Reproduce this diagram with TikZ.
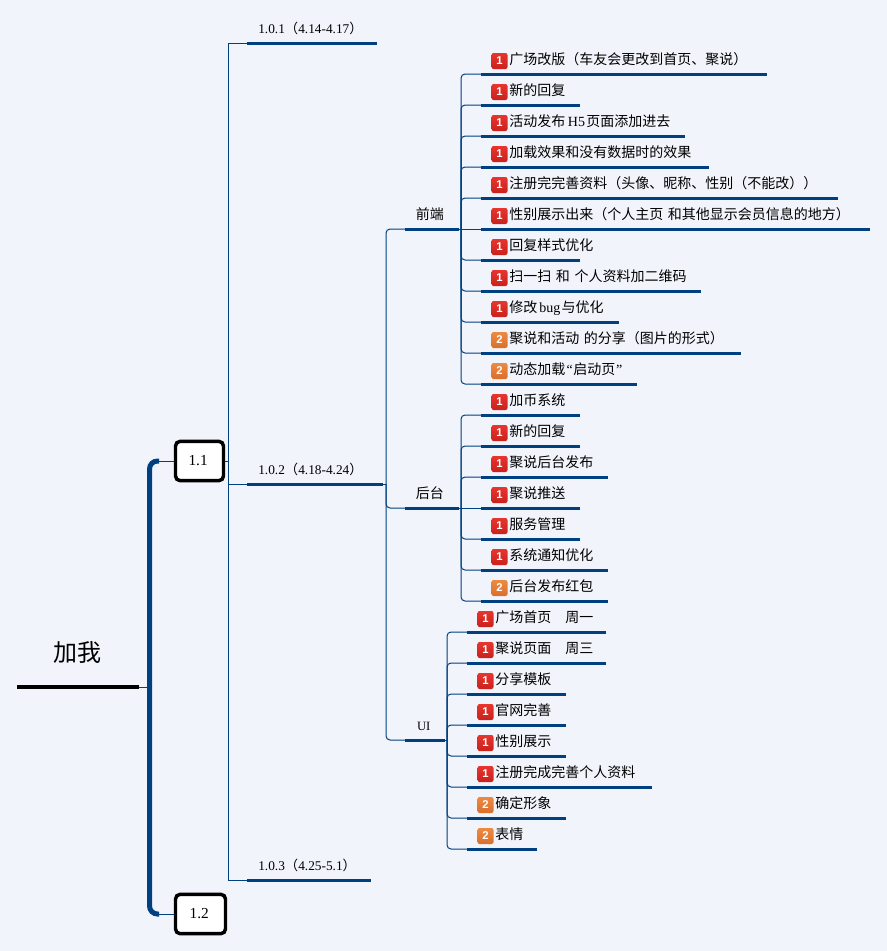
\documentclass[tikz,border=0pt]{standalone}
\usepackage{fontspec}
\setmainfont{Noto Sans CJK SC}
\newfontfamily\latfont{Liberation Serif}
\newfontfamily\tagfont{Liberation Sans}
\newcommand{\lat}[1]{{\latfont #1}}
\definecolor{paper}{HTML}{F2F4FB}
\definecolor{navy}{HTML}{004080}
\definecolor{E1}{HTML}{E8352E}
\definecolor{E2}{HTML}{C9211D}
\definecolor{O1}{HTML}{EC8A42}
\definecolor{O2}{HTML}{D96F2B}
\tikzset{
  bar/.style={inner sep=0pt, anchor=south west, text height=15pt, text depth=6.75pt,
    append after command={(\tikzlastnode.south west) edge[line width=2.25pt, navy] (\tikzlastnode.south east)}},
  leaf/.style={bar, text width=#1*0.75pt-0.75pt, font=\fontsize{10.5}{12}\selectfont, execute at begin node={\hspace*{21pt}}},
  stage/.style={bar, text width=#1*0.75pt-0.75pt, font=\fontsize{10}{11}\selectfont, execute at begin node={\hspace*{8.25pt}}},
  side/.style={bar, minimum width=#1*0.75pt-0.75pt, font=\fontsize{10.5}{12}\selectfont},
  box/.style={draw=black, fill=white, line width=2.6pt, rounded corners=3.5pt, minimum width=36pt, minimum height=29.5pt, font=\latfont\fontsize{11.5}{13}\selectfont, execute at begin node={\kern-2pt}},
  tag/.style={rectangle, rounded corners=1.5pt, minimum size=12pt, inner sep=0pt, text=white, font=\tagfont\bfseries\fontsize{8.5}{9}\selectfont},
  red/.style={tag, top color=E1, bottom color=E2},
  orange/.style={tag, top color=O1, bottom color=O2},
  wire/.style={navy, line width=.75pt},
  twig/.style={wire, rounded corners=3pt},
  trunk/.style={navy, line width=3.75pt, rounded corners=6pt}
}
\begin{document}
\begin{tikzpicture}[x=0.75pt, y=-0.75pt]
  \fill[paper] (0,0) rectangle (887,951);
  \useasboundingbox (0,0) rectangle (887,951);
  % Nodes
  \node (root) [inner sep=0pt, anchor=south west, minimum width=90.75pt, text depth=19pt, text height=16pt, font=\fontsize{18}{20}\selectfont, append after command={(\tikzlastnode.south west) edge[line width=3pt, black] (\tikzlastnode.south east)}] at (17,687) {加我};
  \node (b-1) [box] at (199.5,461) {1.1};
  \node (b-2) [box, minimum width=37.5pt] at (200.5,914) {1.2};
  \coordinate (hub) at (149.5,687);
  \coordinate (c-1) at (159,461);
  \coordinate (c-2) at (159,914);
  \coordinate (j-0) at (228,461);

  \node (s-1) [stage=130] at (247,43) {\lat{1.0.1}（\lat{4.14-4.17}）};
  \node (s-2) [stage=136] at (247,484) {\lat{1.0.2}（\lat{4.18-4.24}）};
  \node (s-3) [stage=124] at (247,880) {\lat{1.0.3}（\lat{4.25-5.1}）};
  \coordinate (j-1) at (386,484);

  \node (fe) [side=54, execute at begin node={\kern-3pt}] at (405,229) {前端};
  \node (be) [side=54, execute at begin node={\kern-3pt}] at (405,508) {后台};
  \node (ui) [side=40, font=\latfont\fontsize{9.5}{11}\selectfont, execute at begin node={\kern-1.5pt}] at (405,740) {UI};
  \coordinate (j-f) at (461,229);
  \coordinate (j-b) at (461,508);
  \coordinate (j-u) at (447,740);

  \node (f-1) [leaf=286] at (481,74) {广场改版（车友会更改到首页、聚说）};
  \node (f-2) [leaf=99] at (481,105) {新的回复};
  \node (f-3) [leaf=204] at (481,136) {活动发布\hspace{2pt}\lat{H5}\hspace{1pt}页面添加进去};
  \node (f-4) [leaf=228] at (481,167) {加载效果和没有数据时的效果};
  \node (f-5) [leaf=357] at (481,198) {注册完完善资料（头像、昵称、性别（不能改））};
  \node (f-6) [leaf=389] at (481,229) {性别展示出来（个人主页 和其他显示会员信息的地方）};
  \node (f-7) [leaf=99] at (481,260) {回复样式优化};
  \node (f-8) [leaf=220] at (481,291) {扫一扫 和 个人资料加二维码};
  \node (f-9) [leaf=138] at (481,322) {修改\hspace{1.5pt}\lat{bug}\hspace{1pt}与优化};
  \node (f-10) [leaf=260] at (481,353) {聚说和活动 的分享（图片的形式）};
  \node (f-11) [leaf=156] at (481,384) {动态加载\hspace{1pt}\lat{“}\hspace{.5pt}启动页\hspace{.5pt}\lat{”}};

  \node (g-1) [leaf=99] at (481,415) {加币系统};
  \node (g-2) [leaf=99] at (481,446) {新的回复};
  \node (g-3) [leaf=127] at (481,477) {聚说后台发布};
  \node (g-4) [leaf=99] at (481,508) {聚说推送};
  \node (g-5) [leaf=99] at (481,539) {服务管理};
  \node (g-6) [leaf=127] at (481,570) {系统通知优化};
  \node (g-7) [leaf=127] at (481,601) {后台发布红包};

  \node (u-1) [leaf=139] at (467,632) {广场首页\quad 周一};
  \node (u-2) [leaf=139] at (467,663) {聚说页面\quad 周三};
  \node (u-3) [leaf=99] at (467,694) {分享模板};
  \node (u-4) [leaf=99] at (467,725) {官网完善};
  \node (u-5) [leaf=99] at (467,756) {性别展示};
  \node (u-6) [leaf=185] at (467,787) {注册完成完善个人资料};
  \node (u-7) [leaf=99] at (467,818) {确定形象};
  \node (u-8) [leaf=70] at (467,849) {表情};

  % Priority tags
  \node (f-1-t) [red] at (499.5,61) {1};
  \node (f-2-t) [red] at (499.5,92) {1};
  \node (f-3-t) [red] at (499.5,123) {1};
  \node (f-4-t) [red] at (499.5,154) {1};
  \node (f-5-t) [red] at (499.5,185) {1};
  \node (f-6-t) [red] at (499.5,216) {1};
  \node (f-7-t) [red] at (499.5,247) {1};
  \node (f-8-t) [red] at (499.5,278) {1};
  \node (f-9-t) [red] at (499.5,309) {1};
  \node (f-10-t) [orange] at (499.5,340) {2};
  \node (f-11-t) [orange] at (499.5,371) {2};
  \node (g-1-t) [red] at (499.5,402) {1};
  \node (g-2-t) [red] at (499.5,433) {1};
  \node (g-3-t) [red] at (499.5,464) {1};
  \node (g-4-t) [red] at (499.5,495) {1};
  \node (g-5-t) [red] at (499.5,526) {1};
  \node (g-6-t) [red] at (499.5,557) {1};
  \node (g-7-t) [orange] at (499.5,588) {2};
  \node (u-1-t) [red] at (485.5,619) {1};
  \node (u-2-t) [red] at (485.5,650) {1};
  \node (u-3-t) [red] at (485.5,681) {1};
  \node (u-4-t) [red] at (485.5,712) {1};
  \node (u-5-t) [red] at (485.5,743) {1};
  \node (u-6-t) [red] at (485.5,774) {1};
  \node (u-7-t) [orange] at (485.5,805) {2};
  \node (u-8-t) [orange] at (485.5,836) {2};

  % Arrow
  \draw[wire] (root.south east) -- (hub);
  \draw[trunk] (hub) |- (c-1);
  \draw[trunk] (hub) |- (c-2);
  \draw[wire] (c-1) -- (b-1.west);
  \draw[wire] (c-2) -- (b-2.west);

  \draw[wire] (b-1.east) -- (j-0);
  \draw[wire] (j-0) |- (s-1.south west);
  \draw[wire] (j-0) |- (s-2.south west);
  \draw[wire] (j-0) |- (s-3.south west);

  \draw[wire] (s-2.south east) -- (j-1);
  \draw[twig] (j-1) |- (fe.south west);
  \draw[twig] (j-1) |- (be.south west);
  \draw[twig] (j-1) |- (ui.south west);

  \draw[wire] (fe.south east) -- (j-f);
  \draw[twig] (j-f) |- (f-1.south west);
  \draw[twig] (j-f) |- (f-2.south west);
  \draw[twig] (j-f) |- (f-3.south west);
  \draw[twig] (j-f) |- (f-4.south west);
  \draw[twig] (j-f) |- (f-5.south west);
  \draw[wire] (j-f) -- (f-6.south west);
  \draw[twig] (j-f) |- (f-7.south west);
  \draw[twig] (j-f) |- (f-8.south west);
  \draw[twig] (j-f) |- (f-9.south west);
  \draw[twig] (j-f) |- (f-10.south west);
  \draw[twig] (j-f) |- (f-11.south west);

  \draw[wire] (be.south east) -- (j-b);
  \draw[twig] (j-b) |- (g-1.south west);
  \draw[twig] (j-b) |- (g-2.south west);
  \draw[twig] (j-b) |- (g-3.south west);
  \draw[wire] (j-b) -- (g-4.south west);
  \draw[twig] (j-b) |- (g-5.south west);
  \draw[twig] (j-b) |- (g-6.south west);
  \draw[twig] (j-b) |- (g-7.south west);

  \draw[wire] (ui.south east) -- (j-u);
  \draw[twig] (j-u) |- (u-1.south west);
  \draw[twig] (j-u) |- (u-2.south west);
  \draw[twig] (j-u) |- (u-3.south west);
  \draw[twig] (j-u) |- (u-4.south west);
  \draw[twig] (j-u) |- (u-5.south west);
  \draw[twig] (j-u) |- (u-6.south west);
  \draw[twig] (j-u) |- (u-7.south west);
  \draw[twig] (j-u) |- (u-8.south west);
\end{tikzpicture}
\end{document}
